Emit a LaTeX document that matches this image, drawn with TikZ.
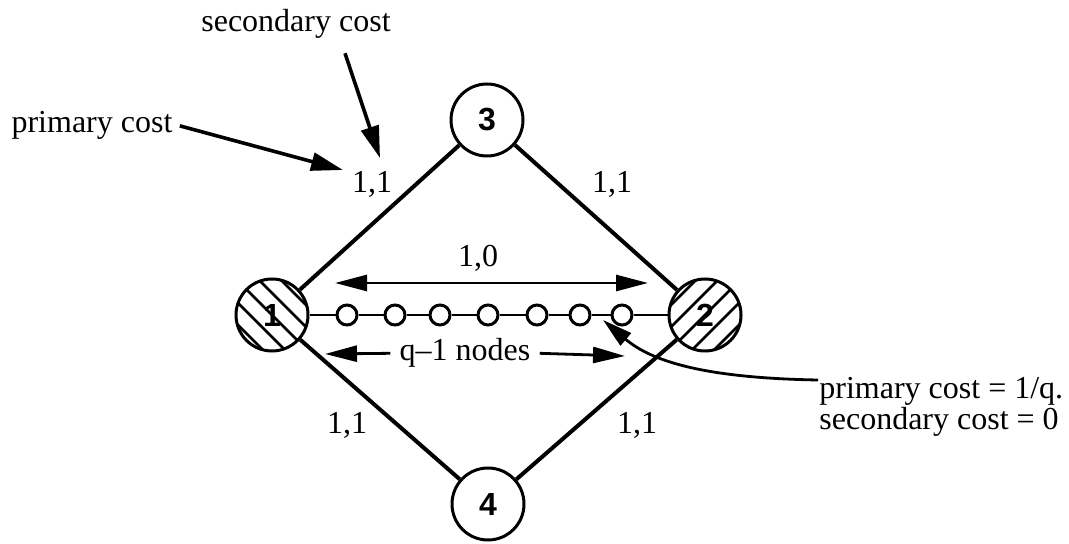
\documentclass[tikz,border=0pt]{standalone}
\usepackage{fontspec}
\setmainfont{Liberation Serif}
\newfontfamily\numfont{Liberation Sans}
\usetikzlibrary{arrows.meta}
\begin{document}
\begin{tikzpicture}[x=0.5pt,y=-0.5pt,
  router/.style={circle,draw,line width=1.5pt,minimum size=36pt,inner sep=0pt,
    font=\numfont\bfseries\fontsize{16}{16}\selectfont},
  relay/.style={circle,draw,line width=1.5pt,minimum size=10pt,inner sep=0pt},
  link/.style={line width=2pt},
  chain/.style={line width=1.3pt},
  hatch/.style={line width=1.4pt},
  cost/.style={font=\fontsize{16}{16}\selectfont,inner sep=0pt},
  pointer/.style={line width=1.8pt,-{Triangle[length=16pt,width=9pt]}},
  bend pointer/.style={line width=1.4pt,-{Triangle[length=15pt,width=8pt]}},
  span/.style={line width=1.4pt,-{Triangle[length=16pt,width=8pt]}},
  span both/.style={line width=1.4pt,{Triangle[length=16pt,width=8pt]}-{Triangle[length=16pt,width=8pt]}}
]
\useasboundingbox (0,0) rectangle (1069,544);

% hatching of the two end routers
\begin{scope}[shift={(272,315)}]
  \clip (0,0) circle (17.5pt);
  \foreach \o in {-66,-44,-22,0,22,44,66}
    \draw[hatch] (\o-60,-60) -- (\o+60,60);
\end{scope}
\begin{scope}[shift={(705,315)}]
  \clip (0,0) circle (17.5pt);
  \foreach \o in {-66,-44,-22,0,22,44,66}
    \draw[hatch] (\o-60,60) -- (\o+60,-60);
\end{scope}

% routers
\node[router] (n1) at (272,315) {1};
\node[router] (n2) at (705,315) {2};
\node[router] (n3) at (487,120) {3};
\node[router] (n4) at (488,504) {4};

% relay nodes of the direct path
\foreach \x [count=\i] in {347,395,440,488,537,580,622}
  \node[relay] (c\i) at (\x,315) {};

% links
\draw[link] (n1) -- (n3);
\draw[link] (n3) -- (n2);
\draw[link] (n1) -- (n4);
\draw[link] (n4) -- (n2);
\draw[chain] (n1) -- (c1) -- (c2) -- (c3) -- (c4) -- (c5) -- (c6) -- (c7) -- (n2);

% link costs
\node[cost,anchor=base] (l13) at (372,193) {1,1};
\node[cost,anchor=base] (l32) at (612,193) {1,1};
\node[cost,anchor=base] (l14) at (347,433) {1,1};
\node[cost,anchor=base] (l42) at (637,433) {1,1};
\node[cost,anchor=base] (l12) at (478,267) {1,0};

% span of the direct path
\coordinate (sa) at (335,283);
\coordinate (sb) at (648,283);
\draw[span both] (sa) -- (sb);

% count of relay nodes
\node[cost,anchor=base,inner sep=4.5pt] (qn) at (465,361) {q--1 nodes};
\coordinate (qa) at (325,354);
\coordinate (qb) at (625,356);
\draw[span] (qn.west) -- (qa);
\draw[span] (qn.east) -- (qb);

% legend for the cost pair
\node[cost,anchor=base] (pc) at (92,133) {primary cost};
\node[cost,anchor=base] (sc) at (296,32) {secondary cost};
\coordinate (pt) at (343,170);
\coordinate (st) at (380,158);
\draw[pointer] ([xshift=3.5pt]pc.east) -- (pt);
\draw[pointer] ([shift={(49,14)}]sc.south) -- (st);

% costs of the relay links
\node[cost,anchor=north west,align=left,font=\fontsize{16}{13.5}\selectfont]
  (pq) at (819,377) {primary cost = 1/q.\\secondary cost = 0};
\coordinate (ct) at (603,320);
\draw[bend pointer] ([shift={(-1,3)}]pq.north west) .. controls (700,378) and (650,360) .. (ct);
\end{tikzpicture}
\end{document}
